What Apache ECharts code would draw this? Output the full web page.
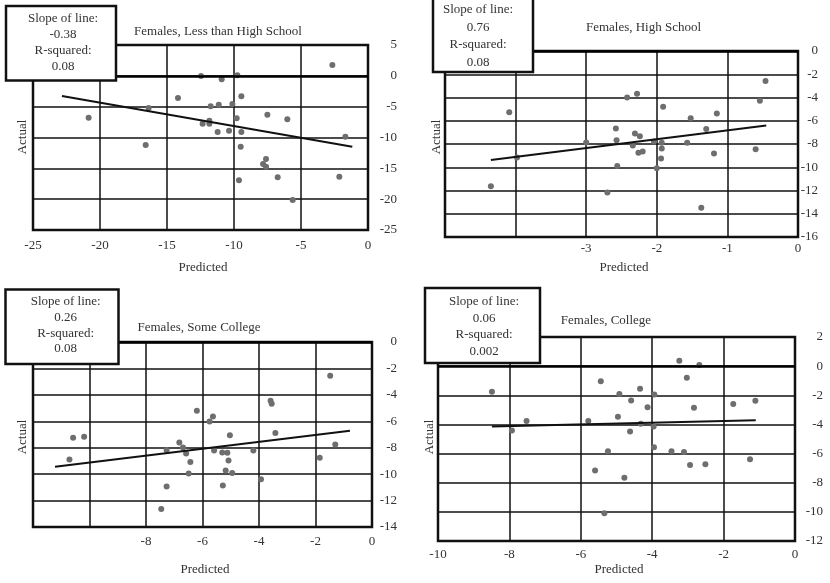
<!DOCTYPE html>
<html><head><meta charset="utf-8">
<script src="https://cdn.jsdelivr.net/npm/echarts@6/dist/echarts.min.js"></script>
<style>html,body{margin:0;padding:0;background:#fff}#c{width:830px;height:583px}</style>
</head><body><div id="c"></div>
<script>
// ---- Data ----
const panelTitles = ['Females, Less than High School', 'Females, High School', 'Females, Some College', 'Females, College'];

const lhsPredicted = [-2.66, -12.46, -9.75, -10.92, -14.18, -9.45, -16.37, -11.74, -11.14, -10.12, -20.85, -9.8, -7.51, -6.02, -12.34, -11.84, -11.84, -11.22, -10.37, -9.45, -1.69, -16.59, -9.5, -7.61, -7.83, -7.61, -9.63, -6.74, -2.14, -5.62];
const lhsActual    = [1.76, -0.03, 0.1, -0.57, -3.59, -3.32, -5.22, -4.95, -4.68, -4.57, -6.78, -6.89, -6.3, -7.05, -7.76, -7.76, -7.27, -9.11, -8.89, -9.11, -9.86, -11.22, -11.49, -13.49, -14.3, -14.73, -16.95, -16.46, -16.35, -20.14];

const hsPredicted = [-0.46, -0.54, -2.42, -2.28, -4.09, -1.91, -1.52, -1.15, -2.58, -1.3, -2.31, -2.24, -2.57, -3.0, -2.34, -2.04, -1.93, -1.93, -1.57, -2.26, -2.2, -1.19, -0.6, -3.98, -1.94, -2.56, -2.0, -4.35, -2.7, -1.37];
const hsActual    = [-2.59, -4.28, -3.99, -3.68, -5.26, -4.8, -5.78, -5.37, -6.67, -6.7, -7.1, -7.33, -7.67, -7.87, -8.13, -7.79, -7.9, -8.39, -7.9, -8.76, -8.65, -8.82, -8.45, -9.17, -9.25, -9.89, -10.09, -11.64, -12.18, -13.48];

const scPredicted = [-1.48, -3.59, -3.55, -6.2, -5.63, -5.75, -3.42, -5.03, -10.58, -10.19, -6.82, -6.69, -7.27, -6.58, -5.59, -5.3, -5.12, -4.2, -1.3, -10.71, -6.43, -5.08, -1.85, -5.18, -4.95, -6.49, -3.93, -7.27, -5.28, -7.46];
const scActual    = [-2.55, -4.44, -4.67, -5.2, -5.63, -6.01, -6.89, -7.05, -7.25, -7.17, -7.6, -7.98, -8.18, -8.43, -8.21, -8.36, -8.38, -8.21, -7.75, -8.89, -9.09, -8.96, -8.76, -9.72, -9.92, -9.95, -10.38, -10.93, -10.86, -12.63];

const colPredicted = [-3.24, -2.68, -3.03, -5.44, -8.49, -4.34, -4.92, -3.94, -4.59, -4.13, -2.83, -1.73, -1.11, -4.96, -7.52, -5.79, -4.32, -3.96, -7.93, -4.62, -3.95, -5.24, -3.46, -3.11, -1.26, -2.94, -2.51, -5.6, -4.78, -5.34];
const colActual    = [0.37, 0.07, -0.8, -1.03, -1.76, -1.56, -1.92, -1.94, -2.36, -2.82, -2.86, -2.59, -2.38, -3.48, -3.76, -3.76, -3.96, -4.15, -4.42, -4.49, -5.57, -5.84, -5.84, -5.89, -6.39, -6.78, -6.74, -7.17, -7.66, -10.09];

const slopes = [-0.38, 0.76, 0.26, 0.06];
const rSquared = ['0.08', '0.08', '0.08', '0.002'];
const intercepts = [-11.95, -6.07, -6.52, -3.64];
const trendStart = [-22.84, -4.35, -11.22, -8.49];
const trendEnd = [-1.17, -0.45, -0.78, -1.1];

const xMin = [-25, -5, -12, -10];
const xMax = [0, 0, 0, 0];
const xStep = [5, 1, 2, 2];
const xFirstLabel = [-25, -3, -8, -10];
const yMin = [-25, -16, -14, -12];
const yMax = [5, 0, 0, 2];
const yStep = [5, 2, 2, 2];

// ---- Layout ----
const FONT = '"Liberation Serif", "DejaVu Serif", serif';
const TXT = '#333';
const grids = [
  {left: 33, top: 45, width: 335, height: 185},
  {left: 445, top: 51, width: 353, height: 186},
  {left: 33, top: 342, width: 339, height: 185},
  {left: 438, top: 337, width: 357, height: 204}
];
const yLabelMargin = [29, 20, 25, 28];
const xLabelMargin = [9, 5, 8, 7];
const boxes = [
  {x: 6, y: 6, width: 110, height: 74.5},
  {x: 433, y: -5, width: 100, height: 77},
  {x: 5.5, y: 289.5, width: 113, height: 74.5},
  {x: 425, y: 288, width: 115, height: 75}
];
const boxTextX = [63, 478, 65.7, 484];
const boxTextY = [[18.3, 34.3, 50.7, 66.7], [10, 27.7, 45, 62.3], [301.7, 317.3, 333.3, 349], [301.7, 318.3, 335, 351.7]];
const titlePos = [[218, 31.7], [643.5, 27.3], [199, 327.3], [606, 321]];
const actualPos = [[23, 137], [437, 137], [23, 437], [430, 437]];
const predictedPos = [[203, 268], [624, 268], [205, 570], [619, 570]];

const pointSets = [
  [lhsPredicted, lhsActual],
  [hsPredicted, hsActual],
  [scPredicted, scActual],
  [colPredicted, colActual]
];

function txt(x, y, text, extra) {
  return Object.assign({
    type: 'text', x: x, y: y, z: 100,
    style: {text: text, fill: TXT, font: '13px ' + FONT, align: 'center', verticalAlign: 'middle', textAlign: 'center', textVerticalAlign: 'middle'}
  }, extra || {});
}

const xAxes = [], yAxes = [], series = [], graphic = [];
for (let i = 0; i < 4; i++) {
  xAxes.push({
    type: 'value', gridIndex: i, min: xMin[i], max: xMax[i], interval: xStep[i],
    axisLine: {show: false}, axisTick: {show: false},
    splitLine: {show: true, lineStyle: {color: '#111', width: 1.5}},
    axisLabel: {color: TXT, fontFamily: FONT, fontSize: 13, margin: xLabelMargin[i],
      formatter: (function (f) { return function (v) { return v >= f - 1e-9 ? String(v) : ''; }; })(xFirstLabel[i])}
  });
  yAxes.push({
    type: 'value', gridIndex: i, position: 'right', min: yMin[i], max: yMax[i], interval: yStep[i],
    axisLine: {show: false}, axisTick: {show: false},
    splitLine: {show: true, lineStyle: {color: '#111', width: 1.5}},
    axisLabel: {color: TXT, fontFamily: FONT, fontSize: 13, align: 'right', margin: yLabelMargin[i]}
  });
  const pts = pointSets[i][0].map(function (x, k) { return [x, pointSets[i][1][k]]; });
  series.push({
    type: 'scatter', xAxisIndex: i, yAxisIndex: i, data: pts, symbolSize: 6,
    itemStyle: {color: '#6e6e6e', opacity: 1}, z: 3,
    markLine: {silent: true, symbol: ['none', 'none'], label: {show: false},
      lineStyle: {color: '#000', width: 2.5, type: 'solid'}, data: [{yAxis: 0}]}
  });
  series.push({
    type: 'line', xAxisIndex: i, yAxisIndex: i, showSymbol: false, symbol: 'none', z: 4,
    lineStyle: {color: '#111', width: 2},
    data: [[trendStart[i], intercepts[i] + slopes[i] * trendStart[i]], [trendEnd[i], intercepts[i] + slopes[i] * trendEnd[i]]]
  });
  graphic.push({type: 'rect', z: 90, shape: boxes[i], style: {fill: '#fff', stroke: '#111', lineWidth: 2.5}});
  const lines = ['Slope of line:', String(slopes[i]), 'R-squared:', rSquared[i]];
  lines.forEach(function (t, k) { graphic.push(txt(boxTextX[i], boxTextY[i][k], t)); });
  graphic.push(txt(titlePos[i][0], titlePos[i][1], panelTitles[i]));
  graphic.push(txt(actualPos[i][0], actualPos[i][1], 'Actual', {rotation: Math.PI / 2}));
  graphic.push(txt(predictedPos[i][0], predictedPos[i][1], 'Predicted'));
}

const chart = echarts.init(document.getElementById('c'), null, {renderer: 'canvas'});
chart.setOption({
  animation: false,
  backgroundColor: '#fff',
  grid: grids.map(function (g) { return Object.assign({show: true, borderColor: '#111', borderWidth: 2.5, backgroundColor: 'transparent'}, g); }),
  xAxis: xAxes,
  yAxis: yAxes,
  series: series,
  graphic: graphic
});
</script>
</body></html>
